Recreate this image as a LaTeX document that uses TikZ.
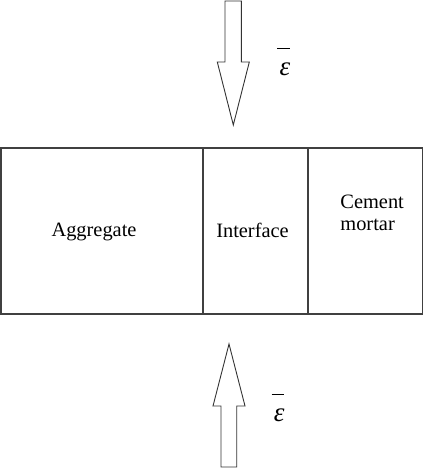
\documentclass[tikz,border=0pt]{standalone}
\usepackage{fontspec}
\setmainfont{Liberation Serif}
\usepackage{tikz}

\begin{document}
\begin{tikzpicture}[x=0.5pt,y=-0.5pt]
\tikzset{every node/.style={inner sep=0pt,font=\fontsize{10.2}{11.3}\selectfont},
  cell/.style={draw=black!75,line width=0.65pt},
  bigarrow/.style={draw=black!80,line width=0.45pt,line join=miter},
  strain/.style={font=\fontsize{13.5}{14}\selectfont\itshape,
    label={[label distance=6.2pt,xshift=-0.7pt]above:\rule{6.3pt}{0.5pt}}}}
\useasboundingbox (0,0) rectangle (424,469);
% specimen: three zones
\draw [cell] (1,148) rectangle (203,314);
\draw [cell] (203,148) rectangle (308,314);
\draw [cell] (308,148) rectangle (422.5,314);
\node (agg) [anchor=base] at (94,236.7) {Aggregate};
\node (itz) [anchor=base] at (252.5,237.7) {Interface};
\node (cem) [anchor=base west,align=left] at (340,230.7) {Cement\\mortar};
% loading arrows
\draw [bigarrow] (225,1) -- (225,62) -- (217.3,62) -- (233.3,125) -- (249.3,62) -- (241.3,62) -- (241.3,1) -- cycle;
\draw [bigarrow] (221,467) -- (221,406) -- (213,406) -- (229,344) -- (245,406) -- (236.7,406) -- (236.7,467) -- cycle;
\node (epstop) [strain] at (285,69.5) {ε};
\node (epsbot) [strain] at (279.3,415) {ε};
\end{tikzpicture}
\end{document}
